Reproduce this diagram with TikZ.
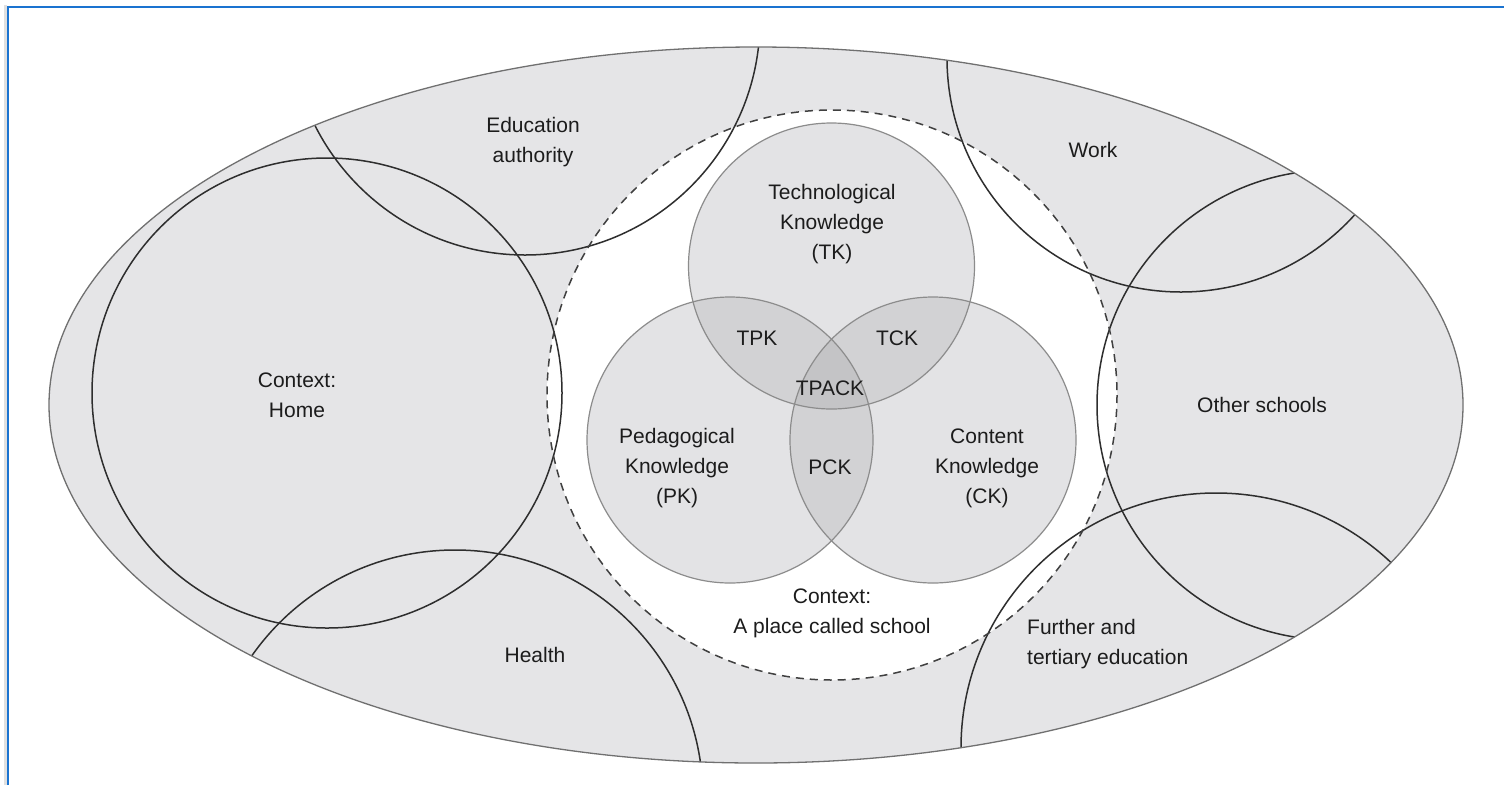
\documentclass[tikz,border=0pt]{standalone}
\usepackage{fontspec}
\setmainfont{Liberation Sans}
\definecolor{bgray}{HTML}{E5E5E7}
\definecolor{vlight}{HTML}{E3E3E5}
\definecolor{vmid}{HTML}{D2D2D4}
\definecolor{vdark}{HTML}{C4C4C6}
\definecolor{ctxline}{HTML}{2E2E2E}
\definecolor{vline}{HTML}{8C8C8C}
\definecolor{eline}{HTML}{707070}
\definecolor{frameblue}{HTML}{1A73D0}
\definecolor{txt}{HTML}{1C1C1C}
\begin{document}
\begin{tikzpicture}[x=1pt,y=-1pt,
  lbl/.style={text=txt,align=center,font=\fontsize{21}{30}\selectfont,inner sep=0pt},
  ctx/.style={draw=ctxline,line width=1.5pt},
  venn/.style={draw=vline,line width=1.2pt}]
\useasboundingbox (0,0) rectangle (1504,785);
\fill[white] (0,0) rectangle (1504,785);
% frame
\draw[black!12,line width=3pt] (5,785) -- (5,5);
\draw[frameblue,line width=2pt] (8,785) -- (8,7) -- (1504,7);
% outer ellipse
\fill[bgray] (756,405) ellipse [x radius=707,y radius=358];
% school context (white)
\fill[white] (832,395) circle [radius=285];
% context circles clipped to ellipse
\begin{scope}
\clip (756,405) ellipse [x radius=707,y radius=358];
\draw[ctx] (327,393) circle [radius=235];
\draw[ctx] (525,20) circle [radius=235];
\draw[ctx] (1181,58) circle [radius=234];
\draw[ctx] (1332,405) circle [radius=235];
\draw[ctx] (1216,748) circle [radius=255];
\draw[ctx] (455,798) circle [radius=248];
\end{scope}
% Venn
\coordinate (tkc) at (831.5,266);
\coordinate (pkc) at (730,440);
\coordinate (ckc) at (933,440);
\fill[vlight] (tkc) circle [radius=143];
\fill[vlight] (pkc) circle [radius=143];
\fill[vlight] (ckc) circle [radius=143];
\begin{scope}
\clip (tkc) circle [radius=143];
\fill[vmid] (pkc) circle [radius=143];
\fill[vmid] (ckc) circle [radius=143];
\end{scope}
\begin{scope}
\clip (pkc) circle [radius=143];
\fill[vmid] (ckc) circle [radius=143];
\clip (ckc) circle [radius=143];
\fill[vdark] (tkc) circle [radius=143];
\end{scope}
\draw[venn] (tkc) circle [radius=143];
\draw[venn] (pkc) circle [radius=143];
\draw[venn] (ckc) circle [radius=143];
% dashed school circle
\draw[draw=black!75,line width=1.5pt,dash pattern=on 8pt off 6pt] (832,395) circle [radius=285];
% ellipse outline
\draw[eline,line width=1.3pt] (756,405) ellipse [x radius=707,y radius=358];
% labels
\node[lbl] (edu) at (533,142) {Education\\authority};
\node[lbl] (work) at (1093,150) {Work};
\node[lbl] (tk) at (832,224) {Technological\\Knowledge\\(TK)};
\node[lbl] (tpk) at (757,338) {TPK};
\node[lbl] (tck) at (897,338) {TCK};
\node[lbl] (tpack) at (830,388) {TPACK};
\node[lbl] (pck) at (830,467) {PCK};
\node[lbl] (home) at (297,395) {Context:\\Home};
\node[lbl] (pk) at (677,468) {Pedagogical\\Knowledge\\(PK)};
\node[lbl] (ck) at (987,468) {Content\\Knowledge\\(CK)};
\node[lbl] (other) at (1262,405) {Other schools};
\node[lbl] (school) at (832,613) {Context:\\A place called school};
\node[lbl] (health) at (535,655) {Health};
\node[lbl,align=left,anchor=west] (further) at (1027,644) {Further and\\tertiary education};
\end{tikzpicture}
\end{document}
